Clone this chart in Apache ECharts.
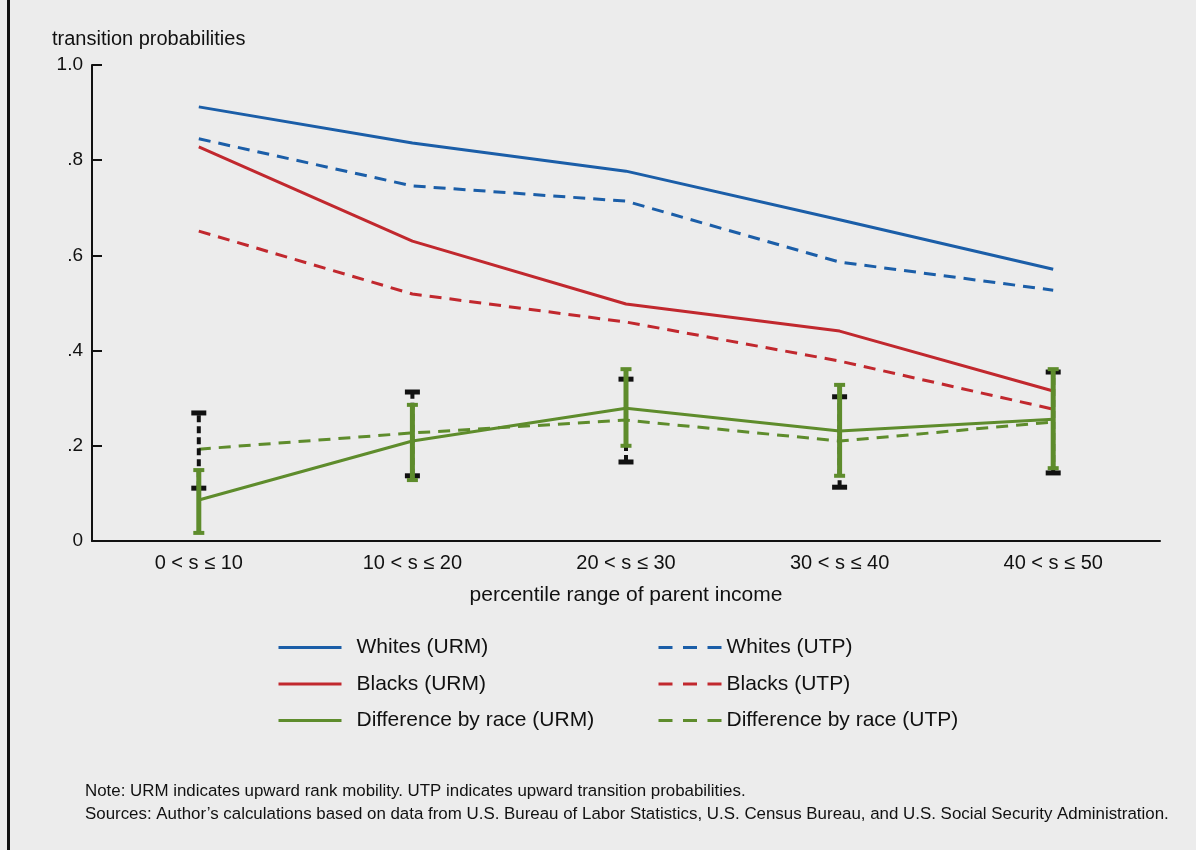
<!DOCTYPE html>
<html>
<head>
<meta charset="utf-8">
<script src="https://cdn.jsdelivr.net/npm/echarts@6/dist/echarts.min.js"></script>
<style>
html, body { margin: 0; padding: 0; background: #ececec; }
#main { width: 1196px; height: 850px; }
</style>
</head>
<body>
<div id="main"></div>
<script>
// categories on x axis
var categories = ['0 < s ≤ 10', '10 < s ≤ 20', '20 < s ≤ 30', '30 < s ≤ 40', '40 < s ≤ 50'];

// series values
var whitesURM = [0.912, 0.836, 0.777, 0.675, 0.571];
var whitesUTP = [0.845, 0.746, 0.714, 0.586, 0.527];
var blacksURM = [0.828, 0.630, 0.498, 0.441, 0.315];
var blacksUTP = [0.651, 0.519, 0.460, 0.378, 0.277];
var diffURM = [0.086, 0.210, 0.279, 0.231, 0.256];
var diffUTP = [0.193, 0.227, 0.254, 0.210, 0.250];

// confidence intervals [low, high]
var diffURMLow = [0.017, 0.128, 0.200, 0.137, 0.153];
var diffURMHigh = [0.149, 0.286, 0.361, 0.328, 0.361];
var diffUTPLow = [0.111, 0.137, 0.166, 0.113, 0.143];
var diffUTPHigh = [0.269, 0.313, 0.340, 0.303, 0.355];

var BLUE = '#1b5ea8';
var RED = '#c1282e';
var GREEN = '#5e8c2c';
var FONT = 'Liberation Sans';

var myChart = echarts.init(document.getElementById('main'));

// [index, utpLow, utpHigh, urmLow, urmHigh]
var ciData = [];
for (var i = 0; i < categories.length; i++) {
    ciData.push([i, diffUTPLow[i], diffUTPHigh[i], diffURMLow[i], diffURMHigh[i]]);
}

// black dashed bar under a solid green bar
function renderCI(params, api) {
    var i = api.value(0);
    var bLo = api.coord([i, api.value(1)]);
    var bHi = api.coord([i, api.value(2)]);
    var gLo = api.coord([i, api.value(3)]);
    var gHi = api.coord([i, api.value(4)]);
    var x = bLo[0];
    return {
        type: 'group',
        children: [
            { type: 'line', z2: 1, shape: { x1: x, y1: bLo[1], x2: x, y2: bHi[1] },
              style: { stroke: '#111', lineWidth: 4, lineDash: [7, 4] } },
            { type: 'rect', z2: 1, shape: { x: x - 7.5, y: bLo[1] - 2.5, width: 15, height: 5 }, style: { fill: '#111' } },
            { type: 'rect', z2: 1, shape: { x: x - 7.5, y: bHi[1] - 2.5, width: 15, height: 5 }, style: { fill: '#111' } },
            { type: 'rect', z2: 10, shape: { x: x - 2.5, y: gHi[1], width: 5, height: gLo[1] - gHi[1] }, style: { fill: GREEN } },
            { type: 'rect', z2: 10, shape: { x: x - 5.5, y: gLo[1] - 2, width: 11, height: 4 }, style: { fill: GREEN } },
            { type: 'rect', z2: 10, shape: { x: x - 5.5, y: gHi[1] - 2, width: 11, height: 4 }, style: { fill: GREEN } }
        ]
    };
}

function lineSeries(name, data, color, dashed) {
    return {
        name: name,
        type: 'line',
        data: data,
        symbol: 'none',
        z: 3,
        lineStyle: { color: color, width: 3, type: dashed ? [12, 8] : 'solid' },
        itemStyle: { color: color }
    };
}

var option = {
    backgroundColor: '#ececec',
    animation: false,
    grid: { left: 92, right: 36, top: 65, bottom: 309 },
    legend: [
        {
            data: ['Whites (URM)', 'Blacks (URM)', 'Difference by race (URM)'],
            orient: 'vertical', left: 272, top: 632,
            itemWidth: 63, itemHeight: 14, itemGap: 15.5,
            itemStyle: { color: 'transparent', borderWidth: 0 },
            lineStyle: { width: 3 },
            textStyle: { fontFamily: FONT, fontSize: 21, color: '#111', padding: [0, 0, 0, 10] }
        },
        {
            data: ['Whites (UTP)', 'Blacks (UTP)', 'Difference by race (UTP)'],
            orient: 'vertical', left: 652, top: 632,
            itemWidth: 63, itemHeight: 14, itemGap: 15.5,
            itemStyle: { color: 'transparent', borderWidth: 0 },
            lineStyle: { width: 3, type: [14, 10.5] },
            textStyle: { fontFamily: FONT, fontSize: 21, color: '#111', padding: [0, 0, 0, 0] }
        }
    ],
    xAxis: {
        type: 'category',
        data: categories,
        boundaryGap: true,
        name: 'percentile range of parent income',
        nameLocation: 'middle',
        nameGap: 44,
        nameTextStyle: { fontFamily: FONT, fontSize: 21, color: '#111' },
        axisLine: { lineStyle: { color: '#111', width: 2 } },
        axisTick: { show: false },
        axisLabel: { fontFamily: FONT, fontSize: 20, color: '#111', margin: 12 }
    },
    yAxis: {
        type: 'value',
        min: 0, max: 1, interval: 0.2,
        splitLine: { show: false },
        axisLine: { show: true, lineStyle: { color: '#111', width: 2 } },
        axisTick: { show: true, inside: true, length: 10, lineStyle: { color: '#111', width: 2 } },
        axisLabel: {
            fontFamily: FONT, fontSize: 19, color: '#111', margin: 9,
            formatter: function (v) {
                if (v === 0) return '0';
                if (v === 1) return '1.0';
                return v.toFixed(1).replace(/^0/, '');
            }
        }
    },
    graphic: [
        { type: 'rect', left: 7, top: 0, shape: { width: 3, height: 850 }, style: { fill: '#111' } },
        { type: 'text', left: 52, top: 29, style: { text: 'transition probabilities', fontFamily: FONT, fontSize: 20, fill: '#111' } },
        { type: 'text', left: 85, top: 783, style: { text: 'Note: URM indicates upward rank mobility. UTP indicates upward transition probabilities.', fontFamily: FONT, fontSize: 16.9, fill: '#111' } },
        { type: 'text', left: 85, top: 806, style: { text: 'Sources: Author\u2019s calculations based on data from U.S. Bureau of Labor Statistics, U.S. Census Bureau, and U.S. Social Security Administration.', fontFamily: FONT, fontSize: 16.9, fill: '#111' } }
    ],
    series: [
        lineSeries('Whites (URM)', whitesURM, BLUE, false),
        lineSeries('Whites (UTP)', whitesUTP, BLUE, true),
        lineSeries('Blacks (URM)', blacksURM, RED, false),
        lineSeries('Blacks (UTP)', blacksUTP, RED, true),
        {
            type: 'custom',
            name: 'CI',
            z: 4,
            renderItem: renderCI,
            encode: { x: 0, y: [1, 2, 3, 4] },
            data: ciData
        },
        lineSeries('Difference by race (URM)', diffURM, GREEN, false),
        lineSeries('Difference by race (UTP)', diffUTP, GREEN, true)
    ]
};

myChart.setOption(option);
</script>
</body>
</html>
